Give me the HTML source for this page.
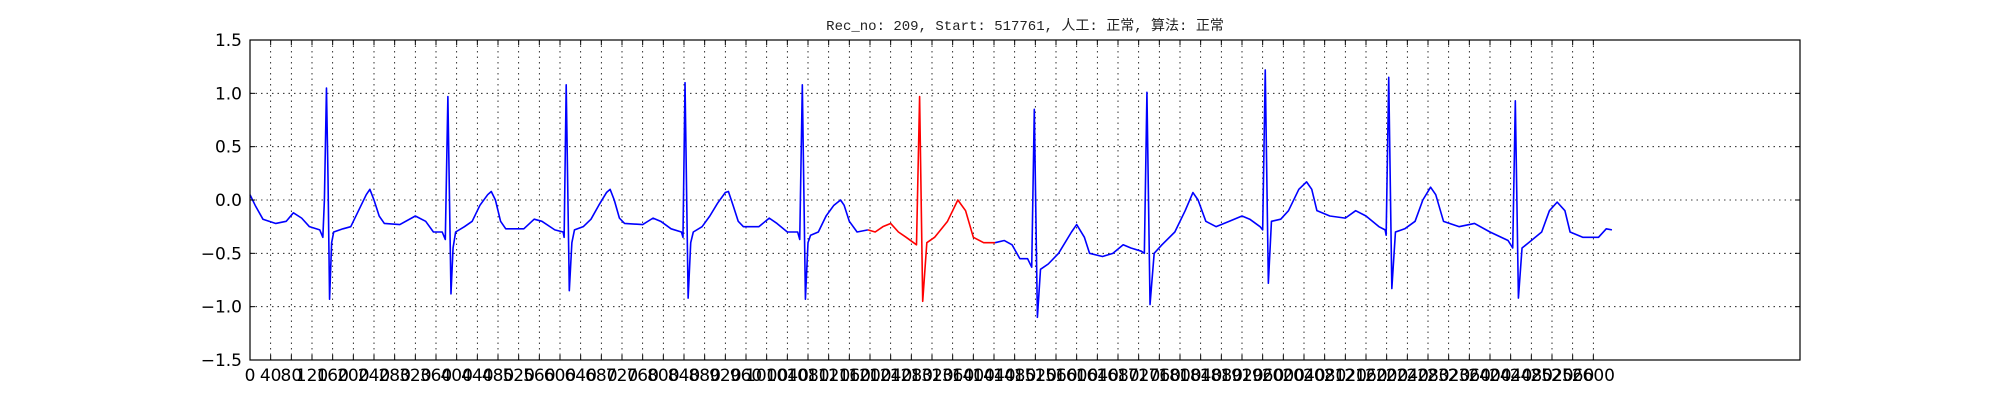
<!DOCTYPE html>
<html><head><meta charset="utf-8"><style>
html,body{margin:0;padding:0;background:#fff;width:2000px;height:400px;overflow:hidden}
svg text{font-family:"DejaVu Sans","Liberation Sans",sans-serif}
</style></head><body>
<svg id="chart" width="2000" height="400" xmlns="http://www.w3.org/2000/svg">
<text x="1025" y="30" text-anchor="middle" font-size="14" style="font-family:'Liberation Mono','Noto Sans CJK SC',monospace" fill="#222">Rec_no: 209, Start: 517761, 人工: 正常, 算法: 正常</text>
<g id="grid"></g>
<g id="series"></g>
<rect x="250" y="40" width="1550" height="320" fill="none" stroke="#000" stroke-width="1.2"/>
<g id="axes"></g>
</svg>
<script>
const sampleIdx = [0,10,25,50,70,84,100,115,135,141,144,148,151,154,158,162,180,195,210,225,232,240,250,260,290,320,340,355,372,378,383,389,393,398,415,430,445,460,467,475,485,495,530,550,565,590,606,608,612,618,623,628,645,660,675,690,697,705,715,725,760,780,795,815,835,838,842,848,853,858,875,890,905,920,926,935,945,955,985,1005,1020,1040,1060,1064,1069,1075,1080,1085,1100,1115,1130,1143,1150,1160,1175,1196,1210,1225,1240,1255,1270,1290,1296,1302,1310,1325,1350,1370,1385,1400,1420,1442,1460,1475,1490,1505,1513,1518,1524,1530,1545,1565,1590,1600,1615,1625,1650,1670,1690,1705,1725,1731,1736,1742,1750,1765,1790,1810,1825,1835,1850,1870,1895,1920,1935,1955,1960,1965,1971,1977,1995,2010,2030,2045,2055,2065,2090,2120,2140,2160,2185,2197,2199,2204,2210,2217,2235,2255,2270,2285,2295,2310,2340,2370,2400,2435,2444,2449,2455,2462,2475,2500,2515,2530,2545,2555,2580,2610,2625,2636];
const ecgValues = [0.05,-0.05,-0.18,-0.22,-0.2,-0.12,-0.17,-0.25,-0.28,-0.35,0.0,1.05,0.2,-0.93,-0.4,-0.3,-0.27,-0.25,-0.1,0.05,0.1,0.0,-0.15,-0.22,-0.23,-0.15,-0.2,-0.3,-0.3,-0.37,0.97,-0.88,-0.45,-0.3,-0.25,-0.2,-0.05,0.05,0.08,0.0,-0.2,-0.27,-0.27,-0.18,-0.2,-0.28,-0.3,-0.35,1.08,-0.85,-0.4,-0.28,-0.25,-0.18,-0.05,0.07,0.1,0.0,-0.17,-0.22,-0.23,-0.17,-0.2,-0.27,-0.3,-0.35,1.1,-0.92,-0.4,-0.3,-0.25,-0.15,-0.03,0.07,0.08,-0.05,-0.2,-0.25,-0.25,-0.17,-0.22,-0.3,-0.3,-0.37,1.08,-0.93,-0.4,-0.33,-0.3,-0.15,-0.05,0.0,-0.05,-0.2,-0.3,-0.28,-0.3,-0.25,-0.22,-0.3,-0.35,-0.42,0.97,-0.95,-0.4,-0.35,-0.2,0.0,-0.1,-0.35,-0.4,-0.4,-0.38,-0.42,-0.55,-0.55,-0.63,0.85,-1.1,-0.65,-0.6,-0.5,-0.3,-0.23,-0.35,-0.5,-0.53,-0.5,-0.42,-0.45,-0.48,-0.5,1.01,-0.98,-0.5,-0.42,-0.3,-0.1,0.07,0.0,-0.2,-0.25,-0.2,-0.15,-0.18,-0.25,-0.28,1.22,-0.78,-0.2,-0.18,-0.1,0.1,0.17,0.1,-0.1,-0.15,-0.17,-0.1,-0.15,-0.25,-0.28,-0.33,1.15,-0.83,-0.3,-0.27,-0.2,0.0,0.12,0.05,-0.2,-0.25,-0.22,-0.3,-0.38,-0.45,0.93,-0.92,-0.45,-0.4,-0.3,-0.1,-0.02,-0.1,-0.3,-0.35,-0.35,-0.27,-0.28];
const highlightRange = [1196, 1442];
const yTicks = [1.5,1.0,0.5,0.0,-0.5,-1.0,-1.5];
const xTicks = [];
for (let t = 0; t <= 2600; t += 40) xTicks.push(t);

const X0=250,X1=1800,Y0=40,Y1=360,XMAX=3000,YMIN=-1.5,YMAX=1.5;
const xs = v => X0 + v/XMAX*(X1-X0);
const ys = v => Y1 - (v-YMIN)/(YMAX-YMIN)*(Y1-Y0);
const NS="http://www.w3.org/2000/svg";
const grid=document.getElementById('grid'), axes=document.getElementById('axes'), series=document.getElementById('series');
function mk(tag, attrs, parent){const e=document.createElementNS(NS,tag);for(const k in attrs)e.setAttribute(k,attrs[k]);parent.appendChild(e);return e;}
const fmt = v => (v<0?'\u2212':'') + Math.abs(v).toFixed(1);
yTicks.forEach(v=>{
  const y=ys(v);
  if(v>YMIN && v<YMAX){
    const g=mk('line',{x1:X0,x2:X1,y1:y,y2:y,stroke:'#000','stroke-width':0.8,'stroke-dasharray':'1.5,4'},grid);
    
    
  }
  const t1=mk('line',{x1:X0,x2:X0+5,y1:y,y2:y,stroke:'#000'},axes);
  
  
  const t2=mk('line',{x1:X1-5,x2:X1,y1:y,y2:y,stroke:'#000'},axes);
  
  
  const lb=mk('text',{x:X0-8,y:y+6,'text-anchor':'end','font-size':17,fill:'#000'},axes);
  lb.textContent=fmt(v);
  
  
});
xTicks.forEach(v=>{
  const x=xs(v);
  if(v>0){
    const g=mk('line',{x1:x,x2:x,y1:Y0,y2:Y1,stroke:'#000','stroke-width':0.8,'stroke-dasharray':'1.5,4'},grid);
    
    
  }
  const t1=mk('line',{x1:x,x2:x,y1:Y1-5,y2:Y1,stroke:'#000'},axes);
  
  
  const t2=mk('line',{x1:x,x2:x,y1:Y0,y2:Y0+5,stroke:'#000'},axes);
  
  
  const lb=mk('text',{x:x,y:Y1+21,'text-anchor':'middle','font-size':17,fill:'#000'},axes);
  lb.textContent=String(v);
  
  
});
function seg(filter, color, name){
  let parts=[], cur=[];
  for(let i=0;i<sampleIdx.length;i++){
    if(filter(i)){cur.push(xs(sampleIdx[i]).toFixed(2)+','+ys(ecgValues[i]).toFixed(2));}
    else if(cur.length){parts.push(cur);cur=[];}
  }
  if(cur.length)parts.push(cur);
  parts.forEach(p=>{
    const pl=mk('polyline',{points:p.join(' '),fill:'none',stroke:color,'stroke-width':1.6,'stroke-linejoin':'round'},series);
    
    
  });
}
const [h0,h1]=highlightRange;
seg(i=>sampleIdx[i]<=h0 || sampleIdx[i]>=h1 || (i+1<sampleIdx.length && sampleIdx[i+1]>h0 && sampleIdx[i]<h0), '#0000ff','ecg-line');
seg(i=>sampleIdx[i]>=h0 && sampleIdx[i]<=h1, '#ff0000','ecg-highlight-segment');
</script>
</body></html>
